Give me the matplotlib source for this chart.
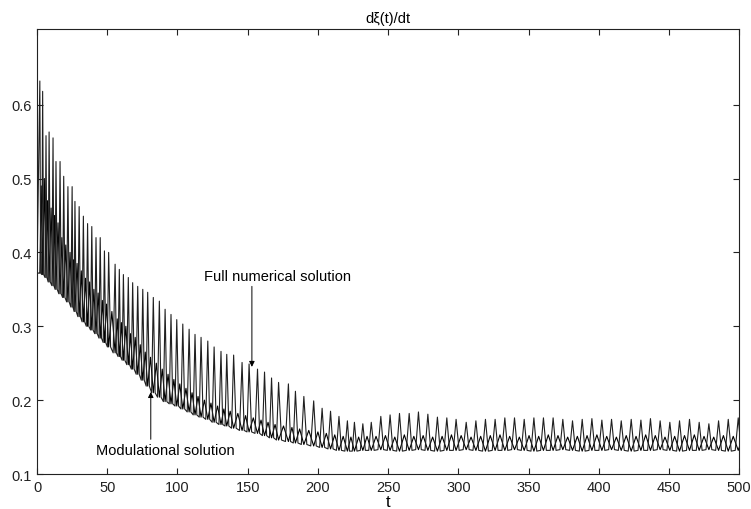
import matplotlib
matplotlib.use("Agg")
import matplotlib.pyplot as plt
import numpy as np

plt.rcParams["font.family"] = ["Liberation Sans", "DejaVu Sans"]

# times of the tall spikes of the full solution
spike_t = [
    2, 4, 6.4, 8.6, 11.4, 13.5, 16.4, 19, 22, 25, 27, 30, 33, 36, 39, 42, 45, 48, 51,
    55.6, 58.6, 61.5, 65, 68.1, 71.7, 75.3, 78.8, 82.8, 87.1, 91.2, 95.4, 99.5,
    103.8, 108.3, 112.5, 116.8, 121.6, 126.1, 131, 135.1,
    140, 146, 151, 157, 162, 167, 172, 179, 184, 190, 197, 203, 209, 215, 221, 226, 232,
    238, 244.8, 251.4, 258.1, 265, 271.6, 278.3, 285.1, 291.8, 298.4, 305.6, 312.5,
    319.3, 326.2, 333.1, 340, 346.9, 353.8, 360.6, 367.5, 374.4, 381.3, 388.2, 395.1,
    402.2, 409.1, 416, 423.1, 430, 436.8, 443.7, 450.6, 457.5, 464.6, 471.5, 478.4,
    485.3, 492.2, 499.3,
]

# spike maxima of the full numerical solution
full_peak = [
    0.632, 0.618, 0.558, 0.563, 0.555, 0.523, 0.523, 0.503, 0.489, 0.489, 0.469, 0.462,
    0.449, 0.439, 0.435, 0.420, 0.420, 0.402, 0.400,
    0.384, 0.377, 0.370, 0.366, 0.359, 0.354, 0.350, 0.346, 0.339, 0.334, 0.323, 0.316,
    0.309, 0.303, 0.296, 0.289, 0.285, 0.280, 0.272, 0.266, 0.262,
    0.261, 0.251, 0.249, 0.242, 0.238, 0.230, 0.224, 0.222, 0.212, 0.205, 0.199, 0.189,
    0.185, 0.178, 0.172, 0.170, 0.168,
    0.170, 0.178, 0.180, 0.182, 0.182, 0.184, 0.181, 0.177, 0.176, 0.174, 0.170, 0.172,
    0.174, 0.174, 0.176, 0.176, 0.174, 0.176, 0.176, 0.176, 0.174, 0.172, 0.174, 0.175,
    0.173, 0.174, 0.172, 0.174, 0.173, 0.175, 0.172, 0.170, 0.172, 0.174, 0.170, 0.168,
    0.172, 0.174, 0.176,
]

# minima between oscillations (shared by both curves)
trough = [
    0.372, 0.370, 0.366, 0.360, 0.355, 0.350, 0.344, 0.339, 0.333, 0.326, 0.320, 0.313,
    0.306, 0.300, 0.295, 0.290, 0.284, 0.278, 0.272,
    0.264, 0.259, 0.254, 0.248, 0.242, 0.235, 0.227, 0.219, 0.210, 0.204, 0.198, 0.195,
    0.192, 0.188, 0.184, 0.180, 0.177, 0.174, 0.170, 0.167, 0.165,
    0.162, 0.159, 0.157, 0.155, 0.152, 0.149, 0.146, 0.144, 0.142, 0.140, 0.138, 0.136,
    0.134, 0.132, 0.131, 0.131, 0.132,
    0.132, 0.133, 0.132, 0.131, 0.132, 0.133, 0.132, 0.131, 0.132, 0.132, 0.133, 0.132,
    0.131, 0.132, 0.132, 0.133, 0.132, 0.131, 0.132, 0.132, 0.133, 0.132, 0.131, 0.132,
    0.132, 0.133, 0.132, 0.131, 0.132, 0.132, 0.133, 0.132, 0.131, 0.132, 0.132, 0.133,
    0.132, 0.131, 0.132,
]

# hump maxima of the modulational solution, between the spikes
mod_peak = [
    0.490, 0.500, 0.470, 0.460, 0.450, 0.440, 0.420, 0.410, 0.400, 0.390, 0.385, 0.375,
    0.365, 0.360, 0.350, 0.345, 0.335, 0.330, 0.320,
    0.310, 0.305, 0.300, 0.290, 0.285, 0.275, 0.265, 0.258, 0.250, 0.242, 0.235, 0.228,
    0.222, 0.216, 0.210, 0.205, 0.200, 0.196, 0.192, 0.188, 0.185,
    0.182, 0.179, 0.176, 0.173, 0.170, 0.167, 0.165, 0.163, 0.161, 0.159, 0.157, 0.155,
    0.153, 0.151, 0.150, 0.150, 0.151,
    0.151, 0.152, 0.150, 0.153, 0.151, 0.152, 0.150, 0.151, 0.153, 0.152, 0.150, 0.151,
    0.152, 0.153, 0.151, 0.150, 0.152, 0.151, 0.153, 0.152, 0.150, 0.151, 0.152, 0.153,
    0.151, 0.150, 0.152, 0.151, 0.153, 0.152, 0.150, 0.151, 0.152, 0.153, 0.151, 0.150,
    0.152, 0.151, 0.152,
]

x_ticks = [0, 50, 100, 150, 200, 250, 300, 350, 400, 450, 500]
y_ticks = [0.1, 0.2, 0.3, 0.4, 0.5, 0.6]


def build_curves():
    t = np.array(spike_t)
    gap = np.diff(t, append=t[-1] + (t[-1] - t[-2]))
    full_x, full_y, mod_x, mod_y = [0.0], [trough[0]], [0.0], [trough[0]]
    for i in range(len(t)):
        d = gap[i]
        nxt = trough[i + 1] if i + 1 < len(t) else trough[i]
        # full solution: narrow spike, flat bottom until the next spike
        full_x += [t[i], t[i] + 0.3 * d, t[i] + 0.7 * d]
        full_y += [full_peak[i], trough[i], nxt]
        # modulational solution: low hump half way between spikes
        mod_x += [t[i], t[i] + 0.5 * d]
        mod_y += [trough[i], mod_peak[i]]
    return (np.array(full_x), np.array(full_y),
            np.array(mod_x), np.array(mod_y))


def main():
    fx, fy, mx, my = build_curves()

    fig = plt.figure(figsize=(7.51, 5.10), dpi=100)
    ax = fig.add_axes([0.0493, 0.0686, 0.935, 0.872])

    ax.plot(mx, my, color="black", lw=0.8)
    ax.plot(fx, fy, color="#202020", lw=0.8)

    ax.set_xlim(0, 500)
    ax.set_ylim(0.1, 0.702)
    ax.set_xticks(x_ticks)
    ax.set_yticks(y_ticks)
    ax.set_xticklabels([str(v) for v in x_ticks])
    ax.set_yticklabels([f"{v:.1f}" for v in y_ticks])
    ax.tick_params(direction="in", length=4, width=0.8, top=True, right=True,
                   labelsize=10.5, pad=4, colors="#222222")
    for s in ax.spines.values():
        s.set_linewidth(0.8)
        s.set_color("#222222")

    ax.set_title("d\u03be(t)/dt", fontsize=10.5, pad=5)
    ax.set_xlabel("t", fontsize=12, labelpad=0.5)

    arrow = dict(arrowstyle="-|>", color="black", lw=0.7,
                 mutation_scale=8, shrinkA=0, shrinkB=0)
    ax.annotate("", xy=(153, 0.245), xytext=(153, 0.354), arrowprops=arrow)
    ax.text(171, 0.368, "Full numerical solution", fontsize=10.5,
            ha="center", va="center")
    ax.annotate("", xy=(81, 0.211), xytext=(81, 0.147), arrowprops=arrow)
    ax.text(91, 0.132, "Modulational solution", fontsize=10.5,
            ha="center", va="center")

    fig.savefig("out.png", dpi=100)


if __name__ == "__main__":
    main()
